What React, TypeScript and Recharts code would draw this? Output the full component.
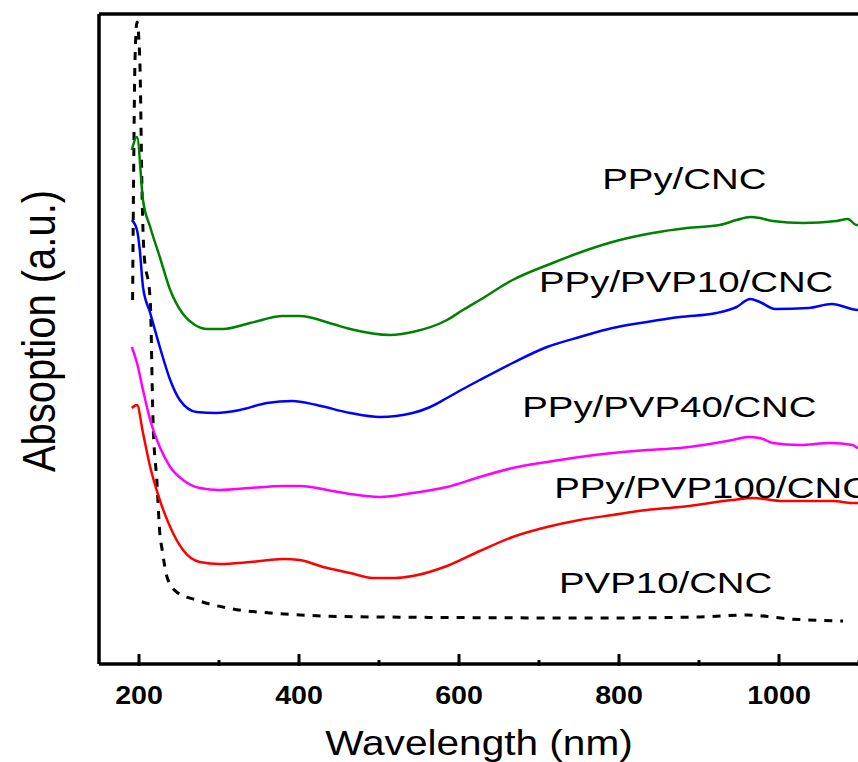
import { LineChart, Line, XAxis, YAxis, ReferenceDot, ReferenceLine } from "recharts";

type Pt = { w: number; a: number };

// wavelength (nm) vs absorption (a.u.)
const ppyCnc: Pt[] = [
  { w: 191, a: 5.14 }, { w: 197.5, a: 5.27 }, { w: 205, a: 4.64 }, { w: 214, a: 4.37 },
  { w: 226, a: 4.07 }, { w: 239, a: 3.74 }, { w: 255, a: 3.5 }, { w: 270, a: 3.39 },
  { w: 285, a: 3.35 }, { w: 305, a: 3.35 }, { w: 339, a: 3.41 }, { w: 380, a: 3.48 },
  { w: 401, a: 3.48 }, { w: 442, a: 3.4 }, { w: 464, a: 3.35 }, { w: 514, a: 3.29 },
  { w: 542, a: 3.32 }, { w: 585, a: 3.44 }, { w: 605, a: 3.54 }, { w: 626, a: 3.64 },
  { w: 667, a: 3.84 }, { w: 717, a: 4.01 }, { w: 760, a: 4.14 }, { w: 801, a: 4.24 },
  { w: 842, a: 4.31 }, { w: 885, a: 4.36 }, { w: 926, a: 4.39 }, { w: 947, a: 4.44 },
  { w: 964, a: 4.47 }, { w: 976, a: 4.46 }, { w: 992, a: 4.43 }, { w: 1030, a: 4.41 },
  { w: 1072, a: 4.43 }, { w: 1086, a: 4.45 }, { w: 1097, a: 4.39 }, { w: 1105, a: 4.39 },
];

const ppyPvp10Cnc: Pt[] = [
  { w: 191, a: 4.44 }, { w: 197.5, a: 4.34 }, { w: 201, a: 4.14 }, { w: 205, a: 3.77 },
  { w: 214, a: 3.51 }, { w: 226, a: 3.17 }, { w: 239, a: 2.84 }, { w: 251, a: 2.64 },
  { w: 272, a: 2.52 }, { w: 297, a: 2.51 }, { w: 326, a: 2.54 }, { w: 360, a: 2.61 },
  { w: 392, a: 2.63 }, { w: 422, a: 2.59 }, { w: 464, a: 2.51 }, { w: 501, a: 2.47 },
  { w: 542, a: 2.51 }, { w: 564, a: 2.57 }, { w: 585, a: 2.66 }, { w: 605, a: 2.75 },
  { w: 626, a: 2.84 }, { w: 667, a: 3.01 }, { w: 710, a: 3.17 }, { w: 751, a: 3.27 },
  { w: 792, a: 3.36 }, { w: 835, a: 3.42 }, { w: 876, a: 3.47 }, { w: 922, a: 3.51 },
  { w: 947, a: 3.57 }, { w: 964, a: 3.65 }, { w: 976, a: 3.62 }, { w: 995, a: 3.55 },
  { w: 1037, a: 3.56 }, { w: 1066, a: 3.6 }, { w: 1099, a: 3.54 }, { w: 1105, a: 3.54 },
];

const ppyPvp40Cnc: Pt[] = [
  { w: 191, a: 3.17 }, { w: 197.5, a: 3.01 }, { w: 205, a: 2.74 }, { w: 214, a: 2.44 },
  { w: 226, a: 2.17 }, { w: 239, a: 1.97 }, { w: 255, a: 1.84 }, { w: 276, a: 1.76 },
  { w: 301, a: 1.74 }, { w: 339, a: 1.76 }, { w: 380, a: 1.78 }, { w: 401, a: 1.78 },
  { w: 442, a: 1.73 }, { w: 464, a: 1.7 }, { w: 501, a: 1.67 }, { w: 542, a: 1.71 },
  { w: 585, a: 1.77 }, { w: 626, a: 1.87 }, { w: 667, a: 1.96 }, { w: 710, a: 2.02 },
  { w: 751, a: 2.07 }, { w: 792, a: 2.11 }, { w: 835, a: 2.14 }, { w: 876, a: 2.16 },
  { w: 942, a: 2.24 }, { w: 961, a: 2.27 }, { w: 976, a: 2.26 }, { w: 992, a: 2.21 },
  { w: 1026, a: 2.19 }, { w: 1064, a: 2.21 }, { w: 1092, a: 2.19 }, { w: 1099, a: 2.16 },
  { w: 1105, a: 2.16 },
];

const ppyPvp100Cnc: Pt[] = [
  { w: 191, a: 2.56 }, { w: 197.5, a: 2.59 }, { w: 205, a: 2.31 }, { w: 214, a: 1.97 },
  { w: 226, a: 1.64 }, { w: 239, a: 1.37 }, { w: 255, a: 1.14 }, { w: 276, a: 1.02 },
  { w: 301, a: 1.0 }, { w: 339, a: 1.02 }, { w: 380, a: 1.05 }, { w: 401, a: 1.04 },
  { w: 430, a: 0.97 }, { w: 464, a: 0.91 }, { w: 492, a: 0.86 }, { w: 520, a: 0.86 },
  { w: 542, a: 0.88 }, { w: 585, a: 0.98 }, { w: 626, a: 1.13 }, { w: 667, a: 1.27 },
  { w: 710, a: 1.37 }, { w: 751, a: 1.44 }, { w: 792, a: 1.49 }, { w: 835, a: 1.54 },
  { w: 876, a: 1.57 }, { w: 942, a: 1.64 }, { w: 967, a: 1.66 }, { w: 1005, a: 1.63 },
  { w: 1067, a: 1.63 }, { w: 1092, a: 1.61 }, { w: 1105, a: 1.61 },
];

const pvp10Cnc: Pt[] = [
  { w: 192, a: 3.64 }, { w: 193, a: 4.64 }, { w: 195, a: 6.04 }, { w: 197.5, a: 6.42 },
  { w: 201, a: 6.04 }, { w: 204, a: 4.64 }, { w: 206, a: 4.14 }, { w: 214, a: 3.64 },
  { w: 217.5, a: 2.44 }, { w: 222.5, a: 1.81 }, { w: 226, a: 1.31 }, { w: 229, a: 1.14 },
  { w: 235, a: 0.87 }, { w: 247, a: 0.72 }, { w: 272, a: 0.64 }, { w: 317, a: 0.55 },
  { w: 364, a: 0.51 }, { w: 430, a: 0.48 }, { w: 501, a: 0.47 }, { w: 776, a: 0.46 },
  { w: 901, a: 0.47 }, { w: 960, a: 0.49 }, { w: 1014, a: 0.45 }, { w: 1080, a: 0.43 },
];

const xTicks = [200, 300, 400, 500, 600, 700, 800, 900, 1000, 1100];
const majorTicks = [200, 400, 600, 800, 1000];

const tags = [
  { text: "PPy/CNC", w: 779, a: 4.75 },
  { text: "PPy/PVP10/CNC", w: 700, a: 3.72 },
  { text: "PPy/PVP40/CNC", w: 679, a: 2.47 },
  { text: "PPy/PVP100/CNC", w: 719, a: 1.66 },
  { text: "PVP10/CNC", w: 725, a: 0.71 },
];

const FONT = '"Liberation Sans", Arial, sans-serif';

function InTick(props: any) {
  const { x, y, payload } = props;
  const major = majorTicks.includes(payload.value);
  return (
    <g>
      <line x1={x} y1={y} x2={x} y2={y - (major ? 12 : 6)} stroke="#000" strokeWidth={3} />
      {major && (
        <text
          transform={`translate(${x},${y + 38}) scale(1.1,1)`}
          textAnchor="middle"
          fontFamily={FONT}
          fontWeight="bold"
          fontSize={26}
          fill="#000"
        >
          {payload.value}
        </text>
      )}
    </g>
  );
}

const tagLabel = (text: string) => (props: any) => {
  const vb = props.viewBox;
  return (
    <text
      transform={`translate(${vb.x},${vb.y}) scale(1.28,1)`}
      fontFamily={FONT}
      fontSize={30}
      fill="#000"
    >
      {text}
    </text>
  );
};

export default function App() {
  return (
    <div
      style={{
        position: "absolute",
        left: 0,
        top: 0,
        width: 858,
        height: 762,
        overflow: "hidden",
        background: "#fff",
      }}
    >
      <LineChart width={900} height={762} margin={{ top: 14, right: 33, bottom: 0, left: 0 }}>
        <XAxis
          type="number"
          dataKey="w"
          domain={[150, 1110]}
          ticks={xTicks}
          allowDataOverflow
          height={98}
          tickSize={0}
          tickLine={false}
          tick={<InTick />}
          axisLine={{ stroke: "#000", strokeWidth: 3.5 }}
          label={(p: any) => (
            <text
              transform={`translate(${p.viewBox.x + 380},${p.viewBox.y + 91}) scale(1.16,1)`}
              textAnchor="middle"
              fontFamily={FONT}
              fontSize={35}
              fill="#000"
            >
              Wavelength (nm)
            </text>
          )}
        />
        <YAxis
          type="number"
          dataKey="a"
          domain={[0, 6.5]}
          allowDataOverflow
          width={99}
          tick={false}
          tickLine={false}
          axisLine={{ stroke: "#000", strokeWidth: 3.5 }}
          label={(p: any) => (
            <text
              transform={`translate(${p.viewBox.x + 55},${p.viewBox.y + 317}) scale(1.16,1) rotate(-90)`}
              textAnchor="middle"
              fontFamily={FONT}
              fontSize={40}
              fill="#000"
            >
              Absoption (a.u.)
            </text>
          )}
        />
        {/* top edge of the frame */}
        <ReferenceLine y={6.5} stroke="#000" strokeWidth={3.5} ifOverflow="visible" />
        <Line data={pvp10Cnc} dataKey="a" type="monotone" stroke="#000" strokeWidth={3} strokeDasharray="8 8" dot={false} isAnimationActive={false} />
        <Line data={ppyPvp100Cnc} dataKey="a" type="monotone" stroke="#ff0000" strokeWidth={2.5} dot={false} isAnimationActive={false} />
        <Line data={ppyPvp40Cnc} dataKey="a" type="monotone" stroke="#ff00ff" strokeWidth={2.5} dot={false} isAnimationActive={false} />
        <Line data={ppyPvp10Cnc} dataKey="a" type="monotone" stroke="#0000ff" strokeWidth={2.5} dot={false} isAnimationActive={false} />
        <Line data={ppyCnc} dataKey="a" type="monotone" stroke="#008000" strokeWidth={2.5} dot={false} isAnimationActive={false} />
        {tags.map((t) => (
          <ReferenceDot
            key={t.text}
            x={t.w}
            y={t.a}
            r={0}
            fill="none"
            stroke="none"
            ifOverflow="visible"
            label={tagLabel(t.text)}
          />
        ))}
      </LineChart>
    </div>
  );
}
